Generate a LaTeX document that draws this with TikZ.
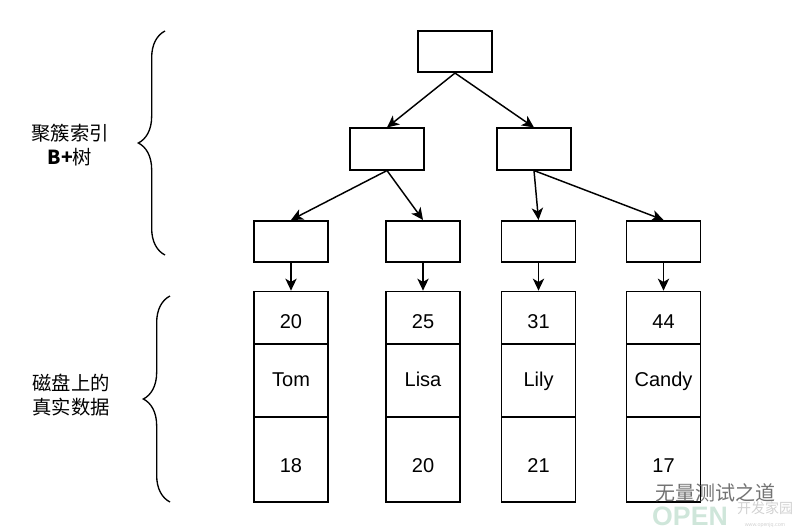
\documentclass[tikz,border=0pt]{standalone}
\usepackage{fontspec}
\setmainfont{Liberation Sans}
\newfontfamily\cjk{Noto Sans CJK SC}
\usetikzlibrary{arrows.meta,decorations.pathreplacing}
\definecolor{wmgreen}{HTML}{CFE6DA}

\begin{document}
\begin{tikzpicture}[
	x=0.75pt, y=-0.75pt,
	idx/.style={ draw, line width=1.3pt, inner sep=0pt, minimum width=55.5pt, minimum height=31pt },
	keycell/.style={ draw, line width=1.3pt, inner sep=0pt, minimum width=55.5pt, minimum height=39.75pt, text height=15pt, text depth=0pt, font=\fontsize{15}{18}\selectfont },
	namecell/.style={ draw, line width=1.3pt, inner sep=0pt, minimum width=55.5pt, minimum height=54.75pt, text height=8.6pt, text depth=0pt, font=\fontsize{15}{18}\selectfont },
	agecell/.style={ draw, line width=1.3pt, inner sep=0pt, minimum width=55.5pt, minimum height=63.75pt, text height=20pt, text depth=0pt, font=\fontsize{15}{18}\selectfont },
	arr/.style={ line width=1.1pt, -{Stealth[length=9pt,width=8.5pt,inset=2.5pt]} },
	brc/.style={ line width=1pt, decorate, decoration={brace, amplitude=20pt} },
	lbl/.style={ align=center, font=\cjk\fontsize{14.5}{17.5}\selectfont },
	wmk/.style={ inner sep=0pt }
]
\useasboundingbox (0,0) rectangle (800,532);

% index pages
\node at (455,51.5) (root) [idx] {};
\node at (387,149) (ia) [idx] {};
\node at (534,149) (ib) [idx] {};
\node at (291,241.5) (la) [idx] {};
\node at (423,241.5) (lb) [idx] {};
\node at (538.5,241.5) (lc) [idx] {};
\node at (663.5,241.5) (ld) [idx] {};
\draw[arr] (root.south) to (ia.north);
\draw[arr] (root.south) to (ib.north);
\draw[arr] (ia.south) to (la.north);
\draw[arr] (ia.south) to (lb.north);
\draw[arr] (ib.south) to (lc.north);
\draw[arr] (ib.south) to (ld.north);

% rows on disk
\node at (291,318) (ka) [keycell] {20};
\node at (291,380.5) (na) [namecell] {Tom};
\node at (291,459.5) (aa) [agecell] {18};
\node at (423,318) (kb) [keycell] {25};
\node at (423,380.5) (nb) [namecell] {Lisa};
\node at (423,459.5) (ab) [agecell] {20};
\node at (538.5,318) (kc) [keycell] {31};
\node at (538.5,380.5) (nc) [namecell] {Lily};
\node at (538.5,459.5) (ac) [agecell] {21};
\node at (663.5,318) (kd) [keycell] {44};
\node at (663.5,380.5) (nd) [namecell] {Candy};
\node at (663.5,459.5) (ad) [agecell] {17};
\draw[arr] (la.south) to (ka.north);
\draw[arr] (lb.south) to (kb.north);
\draw[arr] (lc.south) to (kc.north);
\draw[arr] (ld.south) to (kd.north);

% braces and labels
\draw[brc] (165,255) to (165,31);
\draw[brc] (170,502) to (170,296);
\node at (70,145) (tree) [lbl] {聚簇索引\\\textbf{B+}树};
\node at (71,395) (disk) [lbl] {磁盘上的\\真实数据};

% watermark
\node at (690,516) (open) [wmk, font=\bfseries\fontsize{20}{20}\selectfont, text=wmgreen] {OPEN};
\node at (765,508) (site) [wmk, font=\cjk\fontsize{10.5}{10.5}\selectfont, text=black!18] {开发家园};
\node at (765,525) (url) [wmk, font=\fontsize{4}{4}\selectfont, text=black!18] {www.openjq.com};
\node at (715,493) (wm) [wmk, font=\cjk\fontsize{15}{15}\selectfont, text=black!55] {无量测试之道};

\end{tikzpicture}
\end{document}
